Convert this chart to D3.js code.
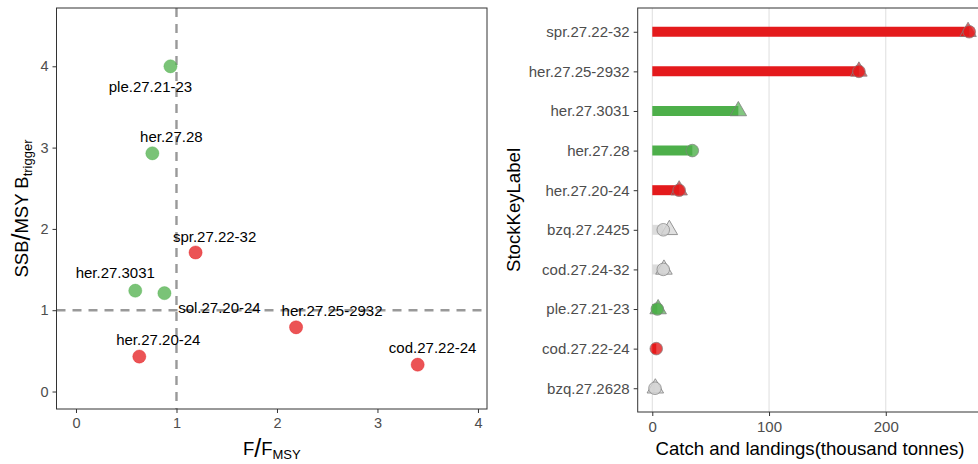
<!DOCTYPE html>
<html><head><meta charset="utf-8">
<script src="https://cdn.jsdelivr.net/npm/d3@7/dist/d3.min.js"></script>
<style>body{margin:0;background:#fff;} text{font-family:"Liberation Sans",Arial,sans-serif;}</style>
</head><body><svg id="c" width="978" height="464"></svg>
<script>
// ---- Left panel data: F/FMSY vs SSB/MSY Btrigger ----
const kobeStocks = ["ple.27.21-23","her.27.28","spr.27.22-32","her.27.3031","sol.27.20-24","her.27.25-2932","her.27.20-24","cod.27.22-24"];
const kobeF      = [0.94, 0.76, 1.19, 0.59, 0.88, 2.19, 0.63, 3.40];
const kobeSSB    = [4.00, 2.93, 1.71, 1.24, 1.21, 0.79, 0.43, 0.33];
const kobeStatus = ["GREEN","GREEN","RED","GREEN","GREEN","RED","RED","RED"];
// label placement (repel offsets, px)
const kobeLabelDx = [-20, 19, 19, -20, 55, 36, 19, 15];
const kobeLabelDy = [20, -17, -16, -18, 15, -17, -17, -17];
const xTicksL = [0,1,2,3,4];
const yTicksL = [0,1,2,3,4];

// ---- Right panel data: catches & landings ----
const stocks   = ["spr.27.22-32","her.27.25-2932","her.27.3031","her.27.28","her.27.20-24","bzq.27.2425","cod.27.24-32","ple.27.21-23","cod.27.22-24","bzq.27.2628"];
const catches  = [271.5, 177, null, 34.3, 23, 9.4, 9.4, 4.3, 3.4, 2.3];
const landings = [270.5, 177, 73.7, null, 23, 14.6, 10, 5, null, 2.6];
const status   = ["RED","RED","GREEN","GREEN","RED","GREY","GREY","GREEN","RED","GREY"];
const xTicksR  = [0,100,200];

const colors = {RED:"#E41A1C", GREEN:"#4DAF4A", GREY:"#D3D3D3"};
const svg = d3.select("#c");
svg.append("rect").attr("width",978).attr("height",464).attr("fill","#fff");

// ================= LEFT PANEL =================
const L = {x0:56.5, x1:487, y0:8, y1:409};
const xL = d3.scaleLinear().domain([-0.194, 4.09]).range([L.x0, L.x1]);
const yL = d3.scaleLinear().domain([-0.215, 4.717]).range([L.y1, L.y0]);
const gL = svg.append("g");

// dashed reference lines
gL.append("line").attr("x1",xL(1)).attr("x2",xL(1)).attr("y1",L.y0).attr("y2",L.y1)
  .attr("stroke","#999").attr("stroke-width",2.4).attr("stroke-dasharray","9,7");
gL.append("line").attr("x1",L.x0).attr("x2",L.x1).attr("y1",yL(1)).attr("y2",yL(1))
  .attr("stroke","#999").attr("stroke-width",2.4).attr("stroke-dasharray","9,7");

// points
const kobe = kobeStocks.map((s,i)=>({s, f:kobeF[i], b:kobeSSB[i], st:kobeStatus[i], dx:kobeLabelDx[i], dy:kobeLabelDy[i]}));
gL.selectAll("circle.k").data(kobe).join("circle")
  .attr("cx",d=>xL(d.f)).attr("cy",d=>yL(d.b)).attr("r",6.6)
  .attr("fill",d=>colors[d.st]).attr("fill-opacity",0.75)
  .attr("stroke",d=>colors[d.st]).attr("stroke-opacity",0.35).attr("stroke-width",1);
gL.selectAll("text.k").data(kobe).join("text")
  .attr("x",d=>xL(d.f)+d.dx).attr("y",d=>yL(d.b)+d.dy).attr("dy","0.35em")
  .attr("text-anchor","middle").attr("font-size",15).attr("fill","#000").text(d=>d.s);

// panel border
gL.append("rect").attr("x",L.x0).attr("y",L.y0).attr("width",L.x1-L.x0).attr("height",L.y1-L.y0)
  .attr("fill","none").attr("stroke","#333").attr("stroke-width",1);

// axes
const axXL = gL.append("g").attr("transform",`translate(0,${L.y1})`)
  .call(d3.axisBottom(xL).tickValues(xTicksL).tickSize(4).tickPadding(5).tickFormat(d3.format("d")));
const axYL = gL.append("g").attr("transform",`translate(${L.x0},0)`)
  .call(d3.axisLeft(yL).tickValues(yTicksL).tickSize(4).tickPadding(4).tickFormat(d3.format("d")));
[axXL, axYL].forEach(a=>{
  a.select(".domain").remove();
  a.selectAll(".tick line").attr("stroke","#333");
  a.selectAll(".tick text").attr("font-size",14.5).attr("fill","#4D4D4D").attr("font-family","Liberation Sans, Arial, sans-serif");
});

// axis titles
const tx = gL.append("text").attr("x",(L.x0+L.x1)/2).attr("y",455).attr("text-anchor","middle").attr("font-size",18.5).attr("fill","#000");
tx.append("tspan").text("F");
tx.append("tspan").attr("font-size",25).attr("dy",2).text("/");
tx.append("tspan").attr("dy",-2).text("F");
tx.append("tspan").attr("font-size",13).attr("dy",4).text("MSY");

const ty = gL.append("text").attr("transform",`translate(28,${(L.y0+L.y1)/2}) rotate(-90)`)
  .attr("text-anchor","middle").attr("font-size",18.5).attr("fill","#000");
ty.append("tspan").text("SSB");
ty.append("tspan").attr("font-size",25).attr("dy",2).text("/");
ty.append("tspan").attr("dy",-2).text("MSY B");
ty.append("tspan").attr("font-size",13).attr("dy",4).text("trigger");

// ================= RIGHT PANEL =================
const R = {x0:637.7, x1:985, y0:8, y1:412};
const xR = d3.scaleLinear().domain([-12.5, 285]).range([R.x0, R.x1]);
const yR = d3.scalePoint().domain(stocks).range([R.y0, R.y1]).padding(0.6);
const gR = svg.append("g");

// gridlines
gR.selectAll("line.grid").data(xTicksR).join("line")
  .attr("x1",d=>xR(d)).attr("x2",d=>xR(d)).attr("y1",R.y0).attr("y2",R.y1)
  .attr("stroke","#DEDEDE").attr("stroke-width",1);

const rows = stocks.map((s,i)=>({s, c:catches[i], l:landings[i], st:status[i], bar: catches[i]!=null ? catches[i] : landings[i]}));
// bars
gR.selectAll("line.bar").data(rows).join("line")
  .attr("x1",xR(0)).attr("x2",d=>xR(d.bar)).attr("y1",d=>yR(d.s)).attr("y2",d=>yR(d.s))
  .attr("stroke",d=>colors[d.st]).attr("stroke-opacity",d=>d.st==="GREY"?0.8:1).attr("stroke-width",10);
// triangles (landings)
gR.selectAll("path.t").data(rows.filter(d=>d.l!=null)).join("path")
  .attr("transform",d=>`translate(${xR(d.l)},${yR(d.s)})`)
  .attr("d",d3.symbol().type(d3.symbolTriangle).size(118))
  .attr("fill",d=>colors[d.st]).attr("fill-opacity",0.7).attr("stroke","#808080").attr("stroke-opacity",0.8).attr("stroke-width",1);
// circles (catches)
gR.selectAll("circle.c").data(rows.filter(d=>d.c!=null)).join("circle")
  .attr("cx",d=>xR(d.c)).attr("cy",d=>yR(d.s)).attr("r",6.3)
  .attr("fill",d=>colors[d.st]).attr("fill-opacity",0.8).attr("stroke","#808080").attr("stroke-opacity",0.7).attr("stroke-width",1);

// panel border
gR.append("rect").attr("x",R.x0).attr("y",R.y0).attr("width",R.x1-R.x0).attr("height",R.y1-R.y0)
  .attr("fill","none").attr("stroke","#333").attr("stroke-width",1);

const axXR = gR.append("g").attr("transform",`translate(0,${R.y1})`)
  .call(d3.axisBottom(xR).tickValues(xTicksR).tickSize(4).tickPadding(5).tickFormat(d3.format("d")));
const axYR = gR.append("g").attr("transform",`translate(${R.x0},0)`)
  .call(d3.axisLeft(yR).tickSize(4).tickPadding(4));
[axXR, axYR].forEach(a=>{
  a.select(".domain").remove();
  a.selectAll(".tick line").attr("stroke","#333");
  a.selectAll(".tick text").attr("font-size",15).attr("fill","#4D4D4D").attr("font-family","Liberation Sans, Arial, sans-serif");
});

gR.append("text").attr("x",810).attr("y",455).attr("text-anchor","middle").attr("font-size",18.6).attr("fill","#000")
  .text("Catch and landings(thousand tonnes)");
gR.append("text").attr("transform",`translate(520,${(R.y0+R.y1)/2}) rotate(-90)`).attr("text-anchor","middle")
  .attr("font-size",18.6).attr("fill","#000").text("StockKeyLabel");
</script></body></html>
